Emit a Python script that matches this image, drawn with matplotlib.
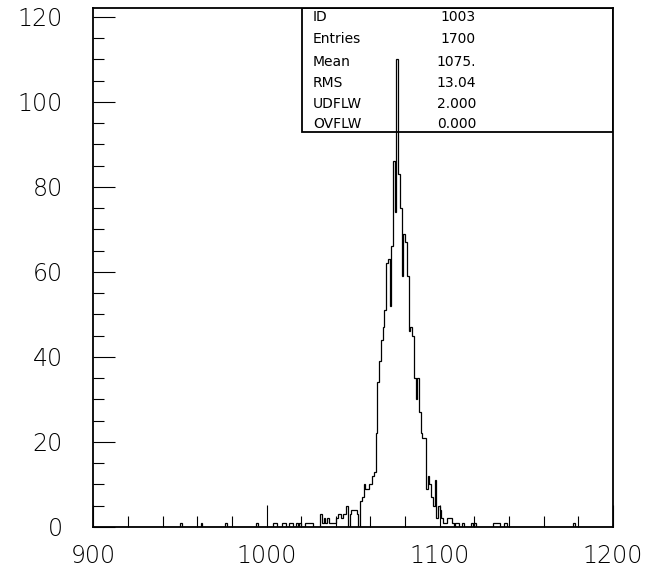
import numpy as np
import matplotlib
matplotlib.use("Agg")
import matplotlib.pyplot as plt
from matplotlib.patches import Rectangle
from matplotlib.ticker import MultipleLocator

# histogram 1003: 1-unit bins from 900 to 1200, only non-empty bins listed
bin_low = [
    950, 962, 976, 994,
    1004, 1005, 1009, 1010, 1013, 1014, 1017, 1019,
    1022, 1023, 1024, 1025, 1026,
    1031, 1032, 1033, 1034, 1035, 1036, 1037, 1038, 1039,
    1040, 1041, 1042, 1043, 1044, 1045, 1046, 1048, 1049, 1050, 1051, 1052,
    1054, 1055, 1056, 1057, 1058, 1059, 1060, 1061, 1062, 1063, 1064, 1065,
    1066, 1067, 1068, 1069, 1070, 1071, 1072, 1073, 1074, 1075, 1076, 1077,
    1078, 1079, 1080, 1081, 1082, 1083, 1084, 1085, 1086, 1087, 1088, 1089,
    1090, 1091, 1092, 1093, 1094, 1095, 1096, 1097, 1098, 1099, 1100, 1101,
    1102, 1103, 1104, 1105, 1106, 1107, 1109, 1110, 1113, 1118, 1120,
    1131, 1132, 1133, 1134, 1137, 1138, 1177,
]
bin_count = [
    1, 1, 1, 1,
    1, 1, 1, 1, 1, 1, 1, 1,
    1, 1, 1, 1, 1,
    3, 1, 2, 1, 2, 1, 1, 1, 1,
    2, 3, 3, 2, 3, 3, 5, 3, 4, 4, 4, 3,
    6, 7, 10, 9, 9, 10, 10, 12, 13, 22, 34, 39,
    44, 47, 51, 62, 63, 52, 66, 86, 74, 110, 83, 75,
    59, 69, 67, 59, 46, 47, 45, 35, 30, 35, 27, 22,
    21, 21, 9, 12, 10, 7, 5, 11, 2, 5, 4, 2,
    1, 1, 2, 2, 2, 1, 1, 1, 1, 1, 1,
    1, 1, 1, 1, 1, 1, 1,
]

stat_names = ["ID", "Entries", "Mean", "RMS", "UDFLW", "OVFLW"]
stat_values = ["1003", "1700", "1075.", "13.04", "2.000", "0.000"]


def plot():
    edges = np.arange(900, 1201)
    counts = np.zeros(len(edges) - 1)
    counts[np.array(bin_low) - 900] = bin_count

    fig = plt.figure(figsize=(6.55, 5.71), dpi=100)
    ax = fig.add_axes([0.1424, 0.0771, 0.7935, 0.9084])

    ax.stairs(counts, edges, baseline=0, color="black", lw=0.9)

    ax.set_xlim(900, 1200)
    ax.set_ylim(0, 122.0)

    ax.xaxis.set_major_locator(MultipleLocator(100))
    ax.xaxis.set_minor_locator(MultipleLocator(20))
    ax.yaxis.set_major_locator(MultipleLocator(20))
    ax.yaxis.set_minor_locator(MultipleLocator(5))

    ax.tick_params(which="both", direction="in", top=False, right=False, width=0.8, color="black")
    ax.tick_params(which="major", length=16)
    ax.tick_params(which="minor", length=8)
    ax.tick_params(axis="y", which="major", labelsize=17, pad=22)
    ax.tick_params(axis="x", which="major", labelsize=17, pad=12)
    for lbl in ax.get_xticklabels() + ax.get_yticklabels():
        lbl.set_fontweight("light")

    for sp in ax.spines.values():
        sp.set_linewidth(1.3)

    # statistics box in the upper right corner
    box_x0 = 0.4016
    box_y0 = 0.7615
    ax.add_patch(Rectangle((box_x0, box_y0), 1 - box_x0, 1 - box_y0, transform=ax.transAxes,
                           fill=False, ec="black", lw=1.3, zorder=5))
    row_px = [17, 39.5, 62, 83, 104, 124]
    for name, val, py in zip(stat_names, stat_values, row_px):
        yy = (527 - py) / 518.7
        ax.text(0.4227, yy, name, transform=ax.transAxes, ha="left", va="center",
                fontsize=10, color="black")
        ax.text(0.7364, yy, val, transform=ax.transAxes, ha="right", va="center",
                fontsize=10, color="black")

    fig.savefig("out.png", dpi=100)


if __name__ == '__main__':
    plot()
